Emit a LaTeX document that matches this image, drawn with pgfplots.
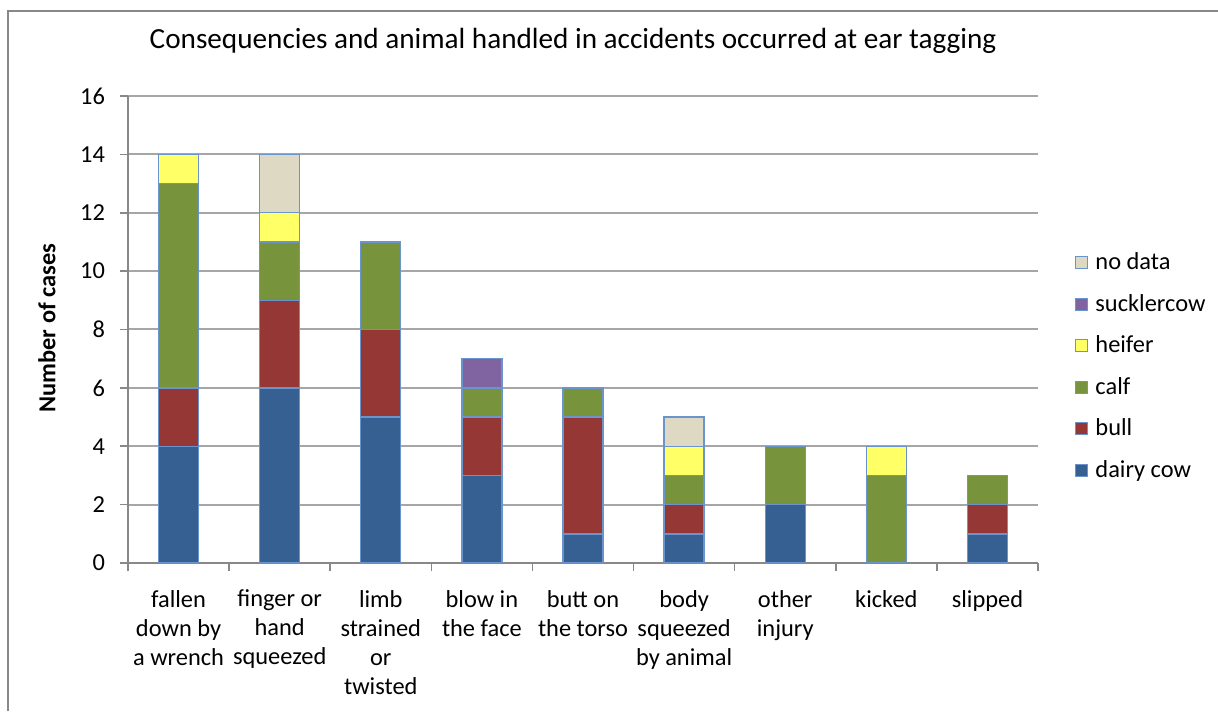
\documentclass[border=0pt]{standalone}
\usepackage{fontspec}
\setmainfont{Carlito}
\usepackage{pgfplots}
\pgfplotsset{compat=1.18}
\usepackage{pgfplotstable}
\definecolor{cdairy}{HTML}{376092}
\definecolor{cbull}{HTML}{953735}
\definecolor{ccalf}{HTML}{77933C}
\definecolor{cheifer}{HTML}{FFFF66}
\definecolor{csuckler}{HTML}{8064A2}
\definecolor{cnodata}{HTML}{DDD9C3}
\definecolor{cborder}{HTML}{6A94CB}
\definecolor{cgrid}{HTML}{A6A6A6}
\definecolor{caxis}{HTML}{888888}
\newcommand\chartfont{\fontsize{12.2}{14.5}\selectfont}
\pgfplotstableread{
x dairy bull calf heifer suckler nodata
0 4 2 7 1 0 0
1 6 3 2 1 0 2
2 5 3 3 0 0 0
3 3 2 1 0 1 0
4 1 4 1 0 0 0
5 1 1 1 1 0 1
6 2 0 2 0 0 0
7 0 0 3 1 0 0
8 1 1 1 0 0 0
}\data
\begin{document}
\begin{tikzpicture}
\useasboundingbox (0pt,0pt) rectangle (609pt,355.5pt);
\draw[color=caxis, line width=1pt] (4pt,0pt) -- (4pt,350pt) -- (609pt,350pt);
\begin{axis}[
  at={(64pt,74pt)}, anchor=south west,
  scale only axis, width=455pt, height=233.5pt,
  ybar stacked, bar width=20pt,
  xmin=-0.5, xmax=8.5, ymin=0, ymax=16,
  ytick={0,2,...,16},
  xtick={-0.5,0.5,...,8.5},
  x tick label as interval,
  xticklabels={{fallen\\down by\\a wrench},{finger or\\hand\\squeezed},{limb\\strained\\or\\twisted},{blow in\\the face},{butt on\\the torso},{body\\squeezed\\by animal},{other\\injury},{kicked},{slipped}},
  axis x line*=bottom, axis y line*=left,
  axis line style={color=caxis, line width=0.8pt},
  tick align=outside, major tick length=4pt,
  tick style={color=caxis, line width=0.8pt},
  ymajorgrids, grid style={color=cgrid, line width=1pt},
  /pgf/number format/assume math mode=true,
  tick label style={font=\chartfont},
  x tick label style={align=center, anchor=north, yshift=-6pt},
  y tick label style={xshift=-4pt},
  title={Consequencies and animal handled in accidents occurred at ear tagging},
  title style={font=\fontsize{14.6}{17}\selectfont, at={(axis description cs:0.489,1.093)}, anchor=center},
  ylabel={Number of cases},
  ylabel style={font=\chartfont\bfseries, at={(axis description cs:-0.089,0.503)}, anchor=center},
  legend style={draw=none, fill=none, font=\chartfont, at={(axis description cs:1.0407,0.689)}, anchor=north west,
    inner sep=0pt, row sep=0pt, column sep=3.5pt,
    nodes={minimum height=20.8pt, inner sep=0pt, anchor=west}},
  legend cell align=left,
  reverse legend,
  legend image code/.code={\draw[#1, line width=0.5pt] (0pt,-3pt) rectangle (6pt,3pt);},
  every axis plot/.append style={draw=cborder, line width=0.7pt},
]
\addplot[fill=cdairy] table[x=x,y=dairy]{\data};
\addplot[fill=cbull] table[x=x,y=bull]{\data};
\addplot[fill=ccalf] table[x=x,y=calf]{\data};
\addplot[fill=cheifer] table[x=x,y=heifer]{\data};
\addplot[fill=csuckler] table[x=x,y=suckler]{\data};
\addplot[fill=cnodata] table[x=x,y=nodata]{\data};
\legend{dairy cow,bull,calf,heifer,sucklercow,no data}
\end{axis}
\end{tikzpicture}
\end{document}
